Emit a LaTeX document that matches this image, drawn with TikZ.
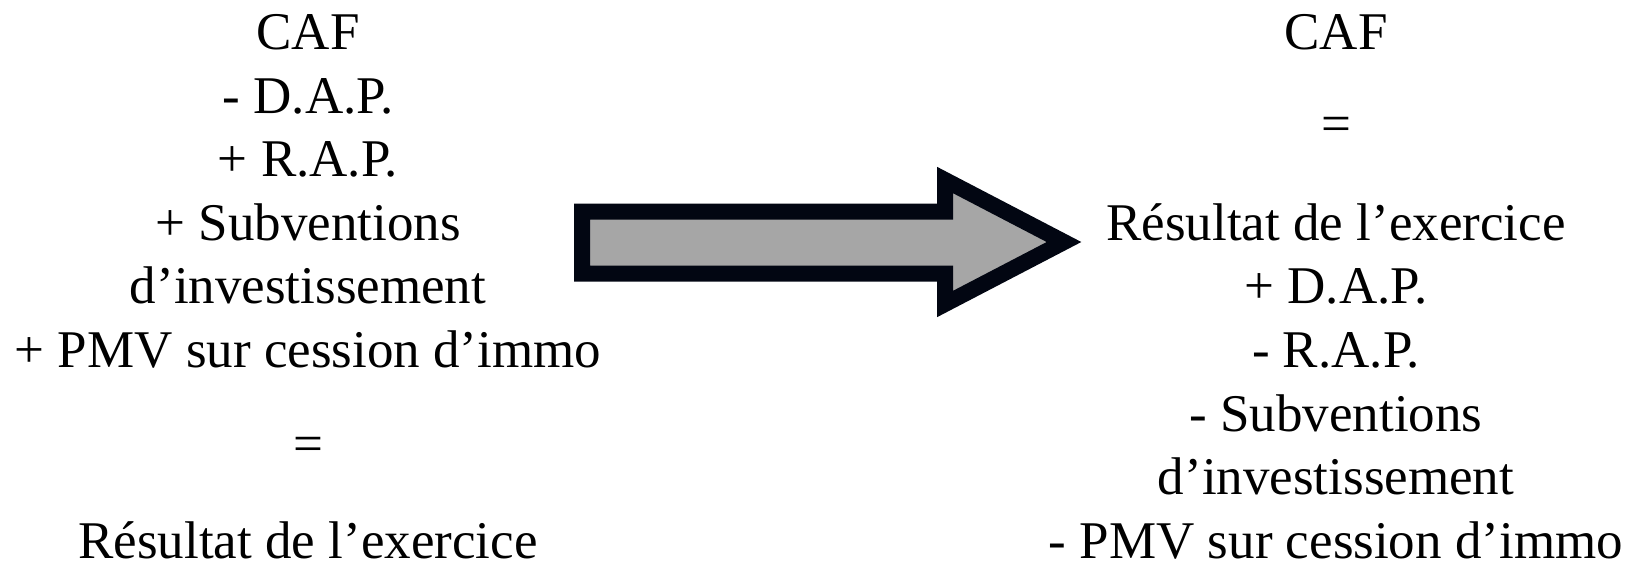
\documentclass[tikz,border=0pt]{standalone}
\usepackage{fontspec}
\setmainfont{Liberation Serif}
\usepackage{tikz}
\definecolor{arrowline}{RGB}{2,6,18}
\definecolor{arrowfill}{RGB}{166,166,166}

\begin{document}
\begin{tikzpicture}[x=0.5pt, y=-0.5pt, font=\fontsize{26.5}{32}\selectfont,
  termline/.style={anchor=base, inner sep=0pt, text=black},
  bigarrow/.style={draw=arrowline, fill=arrowfill, line width=8pt}]
\useasboundingbox (0,0) rectangle (1634,564);

\foreach \name/\y/\txt in {
lcaf/49/CAF,
ldap/113/- D.A.P.,
lrap/176/+ R.A.P.,
lsub/240/+ Subventions,
linv/303/d’investissement,
lpmv/367/+ PMV sur cession d’immo,
leq/461/=,
lres/558/Résultat de l’exercice} {
  \node[termline] (\name) at (308,\y) {\txt};
}

\foreach \name/\y/\txt in {
rcaf/49/CAF,
req/141/=,
rres/240/Résultat de l’exercice,
rdap/303/+ D.A.P.,
rrap/367/- R.A.P.,
rsub/431/- Subventions,
rinv/494/d’investissement,
rpmv/558/- PMV sur cession d’immo} {
  \node[termline] (\name) at (1336,\y) {\txt};
}

\draw[bigarrow] (582,211.5) -- (945,211.5) -- (945,180) -- (1064,242)
  -- (945,304) -- (945,273.5) -- (582,273.5) -- cycle;
\end{tikzpicture}
\end{document}
